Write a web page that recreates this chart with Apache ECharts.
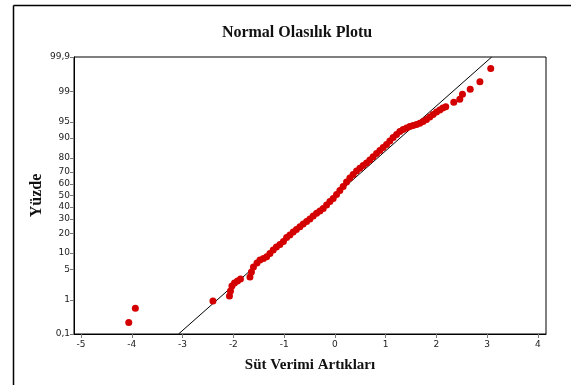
<!DOCTYPE html>
<html>
<head>
<meta charset="utf-8">
<script src="https://cdn.jsdelivr.net/npm/echarts@6/dist/echarts.min.js"></script>
<style>html,body{margin:0;padding:0;background:#fff}#c{width:571px;height:385px}</style>
</head>
<body>
<div id="c"></div>
<script>
// Residuals (x) and cumulative percent (y)
var residuals = [-4.061,-3.931,-2.402,-2.077,-2.057,-2.028,-1.978,-1.919,-1.860,-1.673,-1.644,-1.604,-1.535,-1.476,-1.407,-1.344,-1.280,-1.215,-1.152,-1.083,-1.014,-0.951,-0.886,-0.821,-0.758,-0.689,-0.624,-0.557,-0.492,-0.427,-0.360,-0.295,-0.230,-0.163,-0.098,-0.033,0.033,0.098,0.163,0.230,0.295,0.360,0.427,0.492,0.557,0.624,0.689,0.754,0.821,0.886,0.951,1.018,1.083,1.148,1.215,1.280,1.344,1.411,1.476,1.541,1.608,1.673,1.738,1.805,1.870,1.935,2.002,2.067,2.126,2.185,2.343,2.461,2.514,2.667,2.858,3.071];
var percents = [0.23,0.59,0.93,1.25,1.65,2.17,2.54,2.82,3.12,3.45,4.38,5.52,6.59,7.50,7.98,8.60,9.77,11.18,12.51,13.70,15.22,17.42,18.89,20.76,22.39,24.32,26.24,28.09,29.99,32.36,34.56,36.47,38.59,41.60,44.67,47.33,50.89,54.44,57.96,61.84,65.20,68.04,70.78,72.81,74.85,76.59,78.58,80.68,82.58,84.23,85.80,87.25,88.81,90.23,91.34,92.34,92.96,93.41,93.82,94.09,94.35,94.65,95.07,95.51,96.01,96.47,96.88,97.18,97.46,97.63,98.13,98.41,98.81,99.11,99.44,99.77];
// Fitted reference line endpoints (residual, percent)
var fitX = [-3.08, 3.09];
var fitP = [0.1, 99.9];
// Tick labels
var xTicks = [-5,-4,-3,-2,-1,0,1,2,3,4];
var yTickPercents = [0.1,1,5,10,20,30,40,50,60,70,80,90,95,99,99.9];

// inverse normal CDF (Acklam) - probability scale transform
function probit(p){
  var a=[-3.969683028665376e+01,2.209460984245205e+02,-2.759285104469687e+02,1.383577518672690e+02,-3.066479806614716e+01,2.506628277459239e+00];
  var b=[-5.447609879822406e+01,1.615858368580409e+02,-1.556989798598866e+02,6.680131188771972e+01,-1.328068155288572e+01];
  var c=[-7.784894002430293e-03,-3.223964580411365e-01,-2.400758277161838e+00,-2.549732539343734e+00,4.374664141464968e+00,2.938163982698783e+00];
  var d=[7.784695709041462e-03,3.224671290700398e-01,2.445134137142996e+00,3.754408661907416e+00];
  var pl=0.02425,q,r;
  if(p<pl){q=Math.sqrt(-2*Math.log(p));return (((((c[0]*q+c[1])*q+c[2])*q+c[3])*q+c[4])*q+c[5])/((((d[0]*q+d[1])*q+d[2])*q+d[3])*q+1);}
  if(p<=1-pl){q=p-0.5;r=q*q;return (((((a[0]*r+a[1])*r+a[2])*r+a[3])*r+a[4])*r+a[5])*q/(((((b[0]*r+b[1])*r+b[2])*r+b[3])*r+b[4])*r+1);}
  q=Math.sqrt(-2*Math.log(1-p));return -(((((c[0]*q+c[1])*q+c[2])*q+c[3])*q+c[4])*q+c[5])/((((d[0]*q+d[1])*q+d[2])*q+d[3])*q+1);
}
function z(pct){return probit(pct/100);}
var zTicks = yTickPercents.map(z);
var zMax = z(99.9), zMin = z(0.1);

var pts = residuals.map(function(x,i){return [x, z(percents[i])];});
var fit = fitX.map(function(x,i){return [x, z(fitP[i])];});

var chart = echarts.init(document.getElementById('c'), null, {renderer:'canvas'});
var lbl = {fontFamily:'DejaVu Sans', fontSize:9, color:'#222'};
chart.setOption({
  animation:false,
  backgroundColor:'#fff',
  title:{text:'Normal Olasılık Plotu', left:292, top:20, textAlign:'center',
    textStyle:{fontFamily:'Liberation Serif', fontWeight:'bold', fontSize:16, color:'#111'}},
  grid:{left:74, right:25, top:57, bottom:51, show:true, borderColor:'#000', borderWidth:1, backgroundColor:'transparent'},
  graphic:[
    {type:'line', shape:{x1:13.5,y1:5.5,x2:571,y2:5.5}, style:{stroke:'#000', lineWidth:1.5}},
    {type:'line', shape:{x1:13.5,y1:5.5,x2:13.5,y2:385}, style:{stroke:'#000', lineWidth:1.5}}
  ],
  xAxis:{type:'value', min:-5.14, max:4.16,
    name:'Süt Verimi Artıkları', nameLocation:'middle', nameGap:24, nameMoveOverlap:false,
    nameTextStyle:{fontFamily:'Liberation Serif', fontWeight:'bold', fontSize:15, color:'#111'},
    axisLine:{show:true, onZero:false, lineStyle:{color:'#000', width:1}},
    axisTick:{show:true, length:4, customValues:xTicks, lineStyle:{color:'#777'}},
    axisLabel:Object.assign({customValues:xTicks, margin:6}, lbl),
    splitLine:{show:false}},
  yAxis:{type:'value', min:zMin, max:zMax,
    name:'Yüzde', nameLocation:'middle', nameGap:29, nameRotate:90, nameMoveOverlap:false,
    nameTextStyle:{fontFamily:'Liberation Serif', fontWeight:'bold', fontSize:16, color:'#111'},
    axisLine:{show:true, onZero:false, lineStyle:{color:'#000', width:1}},
    axisTick:{show:true, length:4, customValues:zTicks, lineStyle:{color:'#777'}},
    axisLabel:Object.assign({customValues:zTicks, margin:4, formatter:function(v){
      var best=yTickPercents[0], d=1e9;
      yTickPercents.forEach(function(p){var dd=Math.abs(z(p)-v); if(dd<d){d=dd;best=p;}});
      return String(best).replace('.',',');
    }}, lbl),
    splitLine:{show:false}},
  series:[
    {type:'line', data:fit, symbol:'none', lineStyle:{color:'#000', width:1}, z:2, silent:true},
    {type:'scatter', data:pts, symbol:'circle', symbolSize:7, itemStyle:{color:'#d40000', opacity:1}, z:3}
  ]
});
</script>
</body>
</html>
